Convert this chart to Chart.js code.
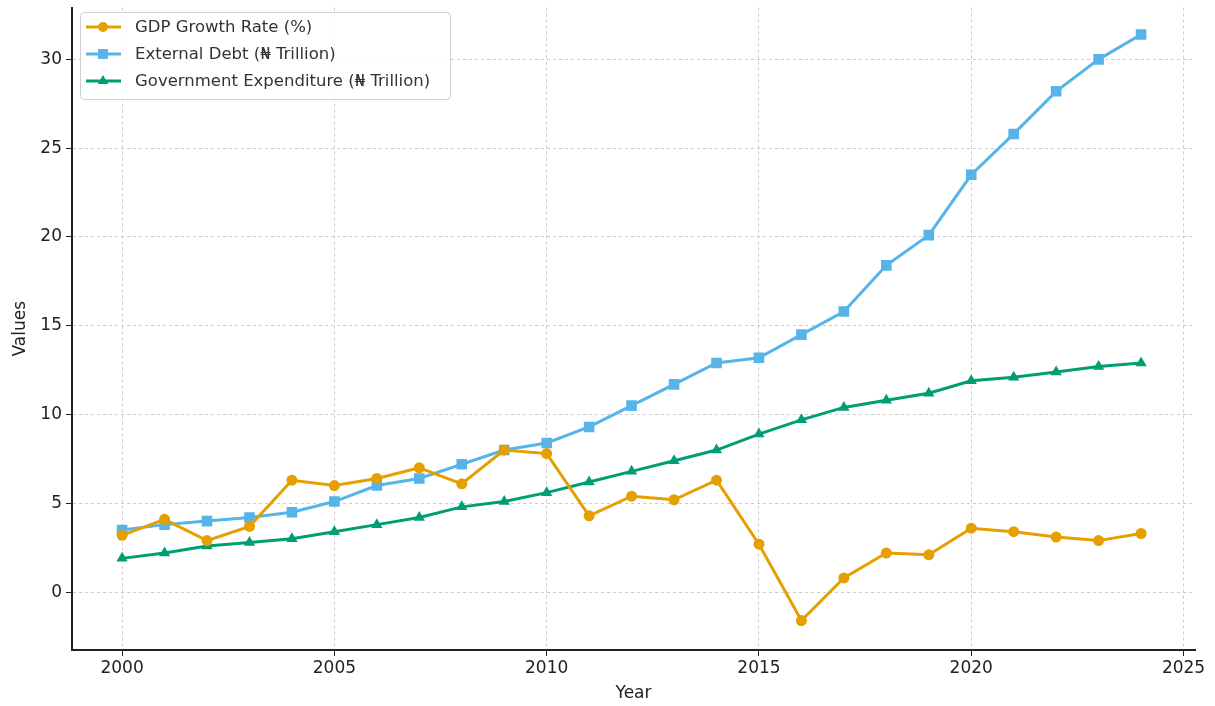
<!DOCTYPE html>
<html>
<head>
<meta charset="utf-8">
<script src="https://cdn.jsdelivr.net/npm/chart.js@4.4.1/dist/chart.umd.min.js"></script>
<style>
  html, body { margin: 0; padding: 0; background: #fff; }
  #wrap { width: 1215px; height: 706px; position: relative; }
</style>
</head>
<body>
<div id="wrap"><canvas id="myChart"></canvas></div>
<script>
// data
const years = [2000, 2001, 2002, 2003, 2004, 2005, 2006, 2007, 2008, 2009, 2010, 2011, 2012,
               2013, 2014, 2015, 2016, 2017, 2018, 2019, 2020, 2021, 2022, 2023, 2024];
const gdpGrowth = [3.2, 4.1, 2.9, 3.7, 6.3, 6.0, 6.4, 7.0, 6.1, 8.0, 7.8, 4.3, 5.4,
                   5.2, 6.3, 2.7, -1.6, 0.8, 2.2, 2.1, 3.6, 3.4, 3.1, 2.9, 3.3];
const externalDebt = [3.5, 3.8, 4.0, 4.2, 4.5, 5.1, 6.0, 6.4, 7.2, 8.0, 8.4, 9.3, 10.5,
                      11.7, 12.9, 13.2, 14.5, 15.8, 18.4, 20.1, 23.5, 25.8, 28.2, 30.0, 31.4];
const govExpenditure = [1.9, 2.2, 2.6, 2.8, 3.0, 3.4, 3.8, 4.2, 4.8, 5.1, 5.6, 6.2, 6.8,
                        7.4, 8.0, 8.9, 9.7, 10.4, 10.8, 11.2, 11.9, 12.1, 12.4, 12.7, 12.9];
const seriesLabels = ['GDP Growth Rate (%)', 'External Debt (₦ Trillion)', 'Government Expenditure (₦ Trillion)'];
const seriesColors = ['#E69F00', '#56B4E9', '#009E73'];
const seriesMarkers = ['circle', 'rect', 'triangle'];
const markerSizes = [5.5, 7.5, 6.5];

const font = "'DejaVu Sans', sans-serif";

function toPoints(vals) {
    let pts = [];
    for (let i = 0; i < years.length; i++) {
        pts.push({ x: years[i], y: vals[i] });
    }
    return pts;
}

const allValues = [gdpGrowth, externalDebt, govExpenditure];
let datasets = [];
for (let k = 0; k < 3; k++) {
    datasets.push({
        label: seriesLabels[k],
        data: toPoints(allValues[k]),
        borderColor: seriesColors[k],
        backgroundColor: seriesColors[k],
        borderWidth: 3,
        pointStyle: seriesMarkers[k],
        pointRadius: markerSizes[k],
        pointBorderWidth: 0,
        tension: 0,
    });
}

// legend box drawn inside the plot, top-left
const legendInside = {
    id: 'legendInside',
    afterDraw(chart) {
        const ctx = chart.ctx;
        const x0 = 80, y0 = 12, w = 370, h = 87;
        ctx.save();
        ctx.fillStyle = 'rgba(255,255,255,0.85)';
        ctx.strokeStyle = '#d0d0d0';
        ctx.lineWidth = 1;
        ctx.beginPath();
        ctx.roundRect(x0 + 0.5, y0 + 0.5, w, h, 4);
        ctx.fill();
        ctx.stroke();
        for (let k = 0; k < 3; k++) {
            const cy = 27 + k * 27;
            ctx.strokeStyle = seriesColors[k];
            ctx.lineWidth = 3;
            ctx.beginPath();
            ctx.moveTo(86, cy);
            ctx.lineTo(121, cy);
            ctx.stroke();
            ctx.fillStyle = seriesColors[k];
            Chart.helpers.drawPoint(ctx, { pointStyle: seriesMarkers[k], radius: markerSizes[k] - 0.5, borderWidth: 0 }, 103, cy);
            ctx.fillStyle = '#333';
            ctx.font = '16.5px ' + font;
            ctx.textBaseline = 'middle';
            ctx.fillText(seriesLabels[k], 135, cy + 1);
        }
        ctx.restore();
    }
};

const config = {
    type: 'line',
    data: { datasets: datasets },
    options: {
        responsive: true,
        maintainAspectRatio: false,
        animation: false,
        layout: { padding: { top: 0, right: 20, left: 0, bottom: 0 } },
        plugins: {
            legend: { display: false },
            tooltip: { enabled: false },
        },
        scales: {
            x: {
                type: 'linear',
                min: 1998.82,
                max: 2025.27,
                afterFit: (s) => { s.height = 56; s.paddingRight = 0; s.paddingLeft = 0; },
                border: { display: true, color: '#222', width: 2, dash: [3, 3] },
                grid: {
                    color: '#cccccc',
                    tickColor: '#222',
                    tickLength: 6,
                    tickBorderDash: [],
                },
                ticks: {
                    stepSize: 5,
                    includeBounds: false,
                    color: '#222',
                    font: { family: font, size: 17 },
                    padding: 2,
                    maxRotation: 0,
                    callback: (v) => String(v),
                },
                title: {
                    display: true,
                    text: 'Year',
                    color: '#222',
                    font: { family: font, size: 17 },
                    padding: { top: 0, bottom: 2 },
                },
            },
            y: {
                type: 'linear',
                min: -3.26,
                max: 32.92,
                afterFit: (s) => { s.width = 72; s.paddingTop = 0; s.paddingBottom = 0; },
                border: { display: true, color: '#222', width: 2, dash: [3, 3] },
                grid: {
                    color: '#cccccc',
                    tickColor: '#222',
                    tickLength: 6,
                    tickBorderDash: [],
                },
                ticks: {
                    stepSize: 5,
                    includeBounds: false,
                    color: '#222',
                    font: { family: font, size: 17 },
                    padding: 4,
                },
                title: {
                    display: true,
                    text: 'Values',
                    color: '#222',
                    font: { family: font, size: 17 },
                    padding: { top: 10, bottom: 0 },
                },
            },
        },
    },
    plugins: [legendInside],
};

let myChart = new Chart(document.getElementById('myChart'), config);
</script>
</body>
</html>
